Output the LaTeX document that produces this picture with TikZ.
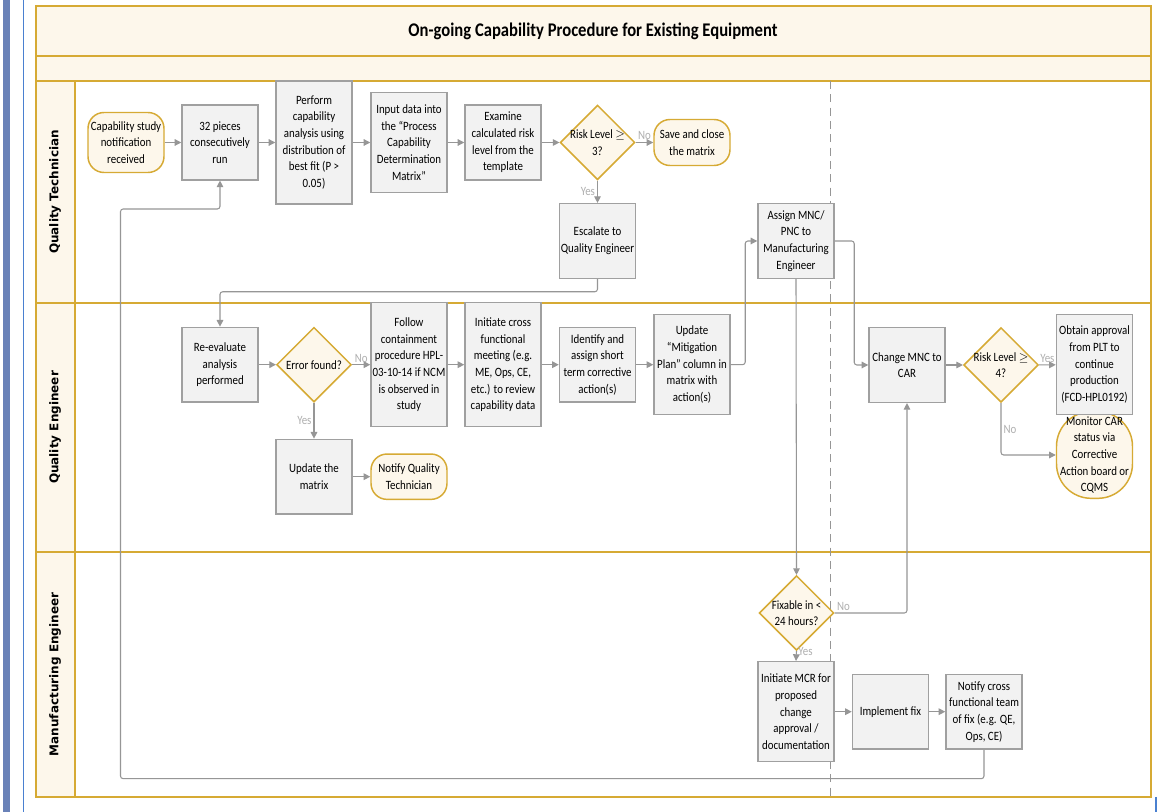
\documentclass[tikz,border=0pt]{standalone}
\usepackage{fontspec}
\setmainfont{Carlito}[FakeStretch=0.86]
\newfontfamily\lanefont{DejaVu Sans}
\usetikzlibrary{positioning,shapes.geometric,arrows.meta}
\definecolor{gold}{RGB}{214,170,52}
\definecolor{cream}{RGB}{253,247,235}
\definecolor{boxgray}{RGB}{242,242,242}
\definecolor{edgegray}{RGB}{160,160,160}
\definecolor{linegray}{RGB}{150,150,150}
\definecolor{lblgray}{RGB}{175,175,175}
\definecolor{barblue}{RGB}{106,130,184}
\definecolor{thinblue}{RGB}{74,128,208}
\newcommand{\boxfont}{\fontsize{9.5}{12.5}\selectfont}

\begin{document}
\begin{tikzpicture}[x=0.75pt, y=-0.75pt,
  proc/.style={draw=edgegray, line width=1.1pt, fill=boxgray, minimum width=57pt, align=center, font=\boxfont, inner sep=1pt},
  term/.style={draw=gold, line width=1.1pt, fill=cream, rounded corners=12pt, minimum width=57pt, align=center, font=\boxfont, inner sep=1pt},
  dec/.style={diamond, draw=gold, line width=1.1pt, fill=cream, minimum width=56pt, minimum height=56pt, inner sep=-4pt, align=center, font=\boxfont},
  flow/.style={draw=linegray, line width=0.8pt, -{Triangle[length=5pt,width=5pt]}, rounded corners=2pt},
  lbl/.style={text=lblgray, font=\boxfont, inner sep=1.5pt},
  lane/.style={draw=gold, line width=1.5pt}]
\useasboundingbox (0,0) rectangle (1158,812);

% window edge
\fill[barblue] (3,0) rectangle (10,812);
\draw[thinblue, line width=1pt] (23.7,0) -- (23.7,812);
\draw[thinblue, line width=1.5pt] (1156,797) -- (1156,812);

% pool and lanes
\draw[lane, fill=cream] (35.6,6) rectangle (1151,56);
\draw[lane, fill=cream] (35.6,56) rectangle (1151,81);
\node[font=\fontsize{14.5}{16}\selectfont\bfseries] (title) at (593,31) {On-going Capability Procedure for Existing Equipment};
\foreach \ya/\yb/\who in {81/303/Quality Technician, 303/552/Quality Engineer, 552/797/Manufacturing Engineer}{
  \draw[lane, fill=cream] (35.6,\ya) rectangle (74.6,\yb);
  \draw[lane, fill=white] (74.6,\ya) rectangle (1151,\yb);
  \node[rotate=90, font=\lanefont\bfseries\fontsize{9}{11}\selectfont] at (55,{(\ya+\yb)/2}) {\who};
}
\draw[linegray, dashed, dash pattern=on 6pt off 4pt, line width=0.7pt] (830,81) -- (830,797);

% quality technician
\node[term, minimum height=45pt] (start) at (126,142.5) {Capability study\\notification\\received};
\node[proc, minimum height=56pt] (pcs) at (220,142.5) {32 pieces\\consecutively\\run};
\node[proc, minimum height=92pt] (perform) at (314,142.5) {Perform\\capability\\analysis using\\distribution of\\best fit (P >\\0.05)};
\node[proc, minimum height=75pt] (input) at (409,142.5) {Input data into\\the “Process\\Capability\\Determination\\Matrix”};
\node[proc, minimum height=56pt] (examine) at (503,142.5) {Examine\\calculated risk\\level from the\\template};
\node[dec] (risk3) at (597.5,142.5) {Risk Level $\geq$\\3?};
\node[term, minimum height=34.5pt] (save) at (692,142.5) {Save and close\\the matrix};
\node[proc, minimum height=56pt] (esc) at (597.5,241) {Escalate to\\Quality Engineer};
\node[proc, minimum height=56pt] (assign) at (796,241) {Assign MNC/\\PNC to\\Manufacturing\\Engineer};

% quality engineer
\node[proc, minimum height=56pt] (reval) at (220,364.7) {Re-evaluate\\analysis\\performed};
\node[dec] (err) at (314,364.7) {Error found?};
\node[proc, minimum height=93pt] (follow) at (409,364.7) {Follow\\containment\\procedure HPL-\\03-10-14 if NCM\\is observed in\\study};
\node[proc, minimum height=93pt] (cross) at (503,364.7) {Initiate cross\\functional\\meeting (e.g.\\ME, Ops, CE,\\etc.) to review\\capability data};
\node[proc, minimum height=56pt] (ident) at (597.5,364.7) {Identify and\\assign short\\term corrective\\action(s)};
\node[proc, minimum height=75pt] (updmit) at (692,364.7) {Update\\“Mitigation\\Plan” column in\\matrix with\\action(s)};
\node[proc, minimum height=56pt] (updmat) at (314,476.7) {Update the\\matrix};
\node[term, minimum height=34pt] (notqt) at (409,476.7) {Notify Quality\\Technician};
\node[proc, minimum height=56pt] (change) at (907,365) {Change MNC to\\CAR};
\node[dec] (risk4) at (1001,365) {Risk Level $\geq$\\4?};
\node[term, rounded corners=26pt, minimum height=65pt] (monitor) at (1094.5,455) {Monitor CAR\\status via\\Corrective\\Action board or\\CQMS};
\node[proc, minimum height=75pt] (obtain) at (1094.5,364.7) {Obtain approval\\from PLT to\\continue\\production\\(FCD-HPL0192)};

% manufacturing engineer
\node[dec] (fix) at (796.5,613) {Fixable in <\\24 hours?};
\node[proc, minimum height=75pt] (mcr) at (796,711.7) {Initiate MCR for\\proposed\\change\\approval /\\documentation};
\node[proc, minimum height=56pt] (impl) at (890.5,711.7) {Implement fix};
\node[proc, minimum height=56pt] (ncross) at (984,711.7) {Notify cross\\functional team\\of fix (e.g. QE,\\Ops, CE)};

% connectors
\draw[flow] (start) -- (pcs);
\draw[flow] (pcs) -- (perform);
\draw[flow] (perform) -- (input);
\draw[flow] (input) -- (examine);
\draw[flow] (examine) -- (risk3);
\draw[flow] (risk3) -- node[lbl, above] {No} (save);
\draw[flow] (risk3) -- node[lbl, left] {Yes} (esc);
\draw[flow] (esc.south) -- ++(0,12.7) -| (reval.north);
\draw[flow] (reval) -- (err);
\draw[flow] (err) -- node[lbl, above] {No} (follow);
\draw[flow] (err) -- node[lbl, left] {Yes} (updmat);
\draw[flow] (updmat) -- (notqt);
\draw[flow] (follow) -- (cross);
\draw[flow] (cross) -- (ident);
\draw[flow] (ident) -- (updmit);
\draw[flow] (updmit.east) -- ++(14.5,0) |- (assign.west);
\draw[flow] (assign.east) -- ++(19.5,0) |- (change.west);
\draw[flow] (change) -- (risk4);
\draw[flow] (risk4) -- node[lbl, above] {Yes} (obtain);
\draw[flow] (risk4.south) |- node[lbl, right, pos=0.25] {No} (monitor.west);
\draw[flow] (assign.south) -- (fix.north);
\draw[flow] (fix.east) node[lbl, above right] {No} -| (change.south);
\draw[flow] (fix.south) node[lbl, right, inner sep=1pt] {Yes} -- (mcr.north);
\draw[flow] (mcr) -- (impl);
\draw[flow] (impl) -- (ncross);
\draw[flow] (ncross.south) |- (120.5,778.7) |- (220,209) -- (pcs.south);
\end{tikzpicture}
\end{document}
